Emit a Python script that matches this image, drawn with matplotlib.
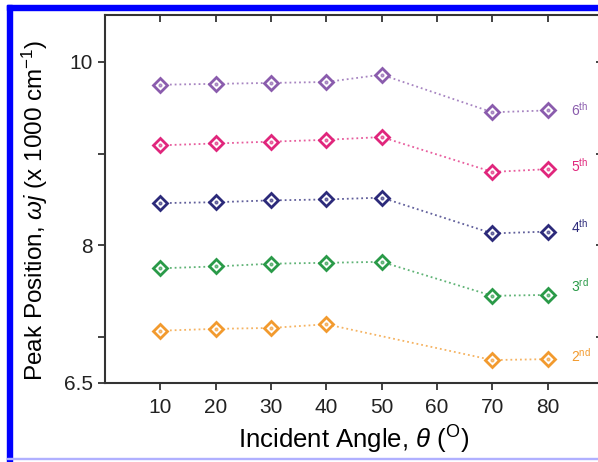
import matplotlib
matplotlib.use('Agg')
import matplotlib.pyplot as plt
from matplotlib.patches import Rectangle

plt.rcParams['font.family'] = ['Liberation Sans', 'DejaVu Sans']
plt.rcParams['mathtext.fontset'] = 'custom'
plt.rcParams['mathtext.rm'] = 'Liberation Sans'
plt.rcParams['mathtext.it'] = 'Liberation Sans:italic'

# incident angles (deg)
angles = [10, 20, 30, 40, 50, 70, 80]
angles_2nd = [10, 20, 30, 40, 70, 80]

# peak positions (x 1000 cm^-1)
peak_6th = [9.75, 9.76, 9.77, 9.78, 9.86, 9.45, 9.47]
peak_5th = [9.09, 9.11, 9.13, 9.15, 9.18, 8.80, 8.83]
peak_4th = [8.46, 8.47, 8.49, 8.50, 8.52, 8.13, 8.15]
peak_3rd = [7.75, 7.77, 7.80, 7.81, 7.82, 7.45, 7.46]
peak_2nd = [7.07, 7.09, 7.10, 7.14, 6.75, 6.76]

orders = ['6$^{\\mathrm{th}}$', '5$^{\\mathrm{th}}$', '4$^{\\mathrm{th}}$',
          '3$^{\\mathrm{rd}}$', '2$^{\\mathrm{nd}}$']
label_y = [9.48, 8.87, 8.20, 7.56, 6.80]

series = [
    (angles, peak_6th, '#8a5cad'),
    (angles, peak_5th, '#e0267c'),
    (angles, peak_4th, '#2c2a7a'),
    (angles, peak_3rd, '#2a9a48'),
    (angles_2nd, peak_2nd, '#f29a2e'),
]

fig = plt.figure(figsize=(5.98, 4.62), dpi=100)
ax = fig.add_axes([105 / 598, 79 / 462, 498 / 598, 368 / 462])

for (xs, ys, c), name, ly in zip(series, orders, label_y):
    ax.plot(xs, ys, linestyle=':', color=c, lw=1.3, alpha=0.75, zorder=1)
    ax.plot(xs, ys, linestyle='none', marker='D', ms=7, mew=2,
            mec=c, mfc='white', zorder=2)
    ax.plot(xs, ys, linestyle='none', marker='o', ms=2, color=c,
            alpha=0.6, zorder=3)
    ax.text(84.3, ly, name, color=c, fontsize=10, va='center', ha='left')

ax.set_xlim(0, 90)
ax.set_ylim(6.5, 10.51)
ax.set_xticks([10, 20, 30, 40, 50, 60, 70, 80])
ax.set_yticks([6.5, 7, 8, 9, 10])
ax.set_yticklabels(['6.5', '', '8', '', '10'])

ax.tick_params(axis='both', which='both', labelsize=15, colors='#222222',
               width=1.2, length=5, direction='out')
ax.tick_params(axis='x', pad=6)
ax.tick_params(top=True, right=True, labeltop=False, labelright=False)
for t in ax.xaxis.get_major_ticks():
    t.tick2line.set_marker(3)  # inward on top
for t in ax.yaxis.get_major_ticks():
    t.tick2line.set_marker(0)  # inward on right
for s in ax.spines.values():
    s.set_linewidth(1.5)
    s.set_color('#333333')

ax.set_xlabel('Incident Angle, $\\mathit{\\theta}$ ($^{\\mathrm{O}}$)',
              fontsize=18.5, labelpad=5)
ax.set_ylabel('Peak Position, $\\mathit{\\omega j}$ (x 1000 cm$^{-1}$)',
              fontsize=17.5)
ax.yaxis.set_label_coords(-0.11, 0.47)

# blue frame around the figure
fig.patches.append(Rectangle((7 / 598, 0), 5 / 598, 1 - 5 / 462,
                             transform=fig.transFigure, color='#0000ff',
                             zorder=10))
fig.patches.append(Rectangle((7 / 598, 1 - 10 / 462), 1, 5 / 462,
                             transform=fig.transFigure, color='#0000ff',
                             zorder=10))
fig.patches.append(Rectangle((7 / 598, 3 / 462), 1, 1.5 / 462,
                             transform=fig.transFigure, color='#b0b0ff',
                             zorder=10))

fig.savefig('out.png', dpi=100)
